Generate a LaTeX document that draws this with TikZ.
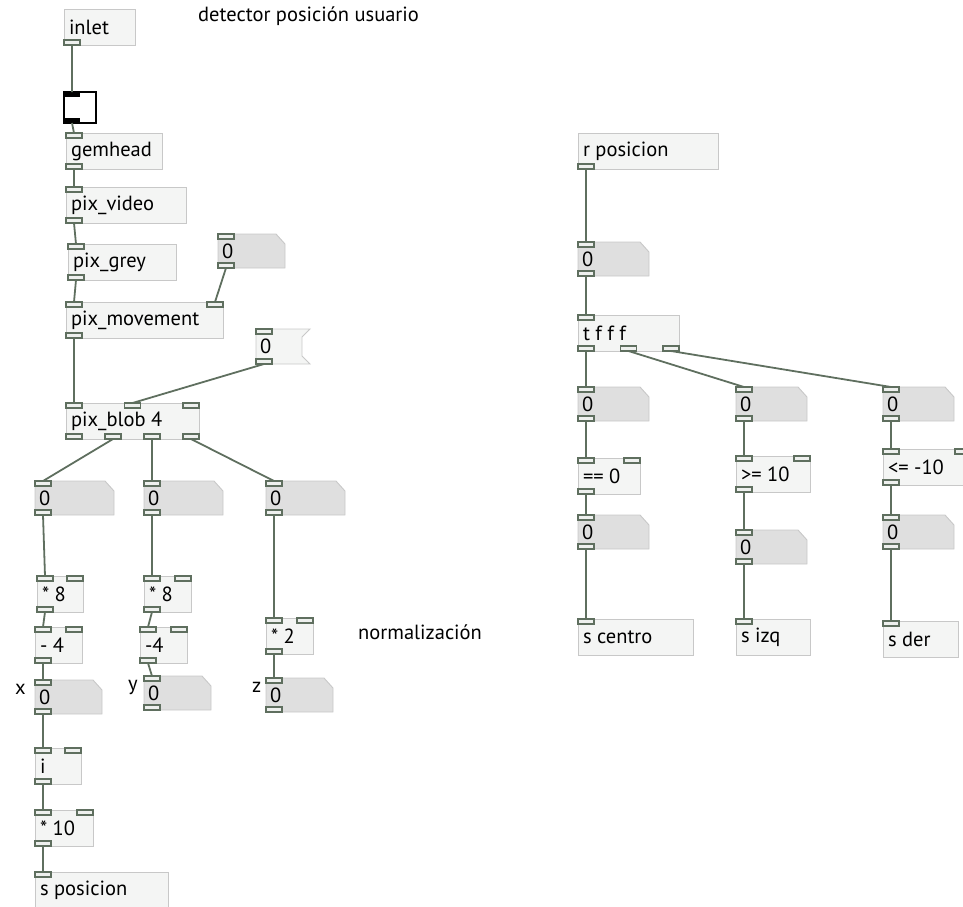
\documentclass[tikz,border=0pt]{standalone}
\usepackage{fontspec}
\setmainfont{PT Sans}
\usepackage{tikz}
\usetikzlibrary{calc}
\definecolor{cablecol}{HTML}{5F6F5F}
\definecolor{boxline}{HTML}{C8C8C8}
\definecolor{boxfill}{HTML}{F4F5F4}
\definecolor{numfill}{HTML}{DFDFDF}
\definecolor{portfill}{HTML}{EEF0EE}
\tikzset{
    pdfont/.style={font=\fontsize{20.5}{24}\selectfont},
    pdbox/.style={draw=boxline, fill=boxfill, line width=0.9pt, inner sep=0pt, outer sep=0pt,
        minimum height=36, anchor=north west, pdfont},
    pdtext/.style={inner sep=0pt, outer sep=0pt, minimum height=34, anchor=north west, pdfont},
    port/.style={draw=cablecol, fill=portfill, line width=1.4pt},
    tglport/.style={fill=black},
    cable/.style={draw=cablecol, line width=1.8pt},
    numshape/.style={draw=boxline, fill=numfill, line width=0.9pt},
    msgshape/.style={draw=boxline, fill=boxfill, line width=0.9pt},
    lbl/.style={inner sep=0pt, anchor=west, pdfont}
}
\newcommand{\pdports}[5][port]{
    \ifnum#4>0
    \foreach \k in {1,...,#4}{
        \pgfmathsetmacro{\dx}{(\k-1)*(#3-16)/max(#4-1,1)}
        \path[#1] ($(#2.north west)+(\dx,0)$) rectangle ++(16,5);
        \coordinate (#2-i\k) at ($(#2.north west)+(\dx+8,0)$);
    }
    \fi
    \ifnum#5>0
    \foreach \k in {1,...,#5}{
        \pgfmathsetmacro{\dx}{(\k-1)*(#3-16)/max(#5-1,1)}
        \path[#1] ($(#2.south west)+(\dx,-5)$) rectangle ++(16,5);
        \coordinate (#2-o\k) at ($(#2.south west)+(\dx+8,0)$);
    }
    \fi
}
\newcommand{\pdobj}[7]{
    \node[pdbox, minimum width=#4] (#1) at (#2, #3) {\makebox[#4pt][l]{\hspace{5pt}#5}};
    \pdports{#1}{#4}{#6}{#7}
}
\newcommand{\pdnum}[4]{
    \path[numshape] (#2, #3) -- ++(#4-9, 0) -- ++(9, 10) -- ++(0, 24) -- ++(-#4, 0) -- cycle;
    \node[pdtext, minimum width=#4] (#1) at (#2, #3) {\makebox[#4pt][l]{\hspace{4pt}0}};
    \pdports{#1}{#4}{1}{1}
}
\newcommand{\pdmsg}[4]{
    \path[msgshape] (#2, #3) -- ++(#4, 0) -- ++(-8, 8) -- ++(0, 19) -- ++(8, 8) -- ++(-#4, 0) -- cycle;
    \node[pdtext, minimum width=#4, minimum height=35] (#1) at (#2, #3) {\makebox[#4pt][l]{\hspace{4pt}0}};
    \pdports{#1}{#4}{1}{1}
}

\begin{document}
\begin{tikzpicture}[x=1pt, y=-1pt]
    \useasboundingbox (0, 0) rectangle (963, 906);
    \node[lbl] (title) at (198, 16) {detector posición usuario};
    \node[lbl] (norm) at (358, 632) {normalización};
    \pdobj{inlet}{64}{9}{71}{inlet}{0}{1}
    \node[draw=black, line width=1.6pt, fill=white, inner sep=0pt, outer sep=0pt,
        minimum width=32, minimum height=31, anchor=north west] (tgl) at (64, 92) {};
    \pdports[tglport]{tgl}{32}{1}{1}
    \pdobj{gemhead}{66}{133}{96}{gemhead}{1}{1}
    \pdobj{pixvideo}{66}{187}{120}{pix\_video}{1}{1}
    \pdobj{pixgrey}{68}{244}{108}{pix\_grey}{1}{1}
    \pdnum{numthr}{218}{234}{67}
    \pdobj{pixmove}{66}{302}{157}{pix\_movement}{2}{1}
    \pdmsg{msgblob}{256}{329}{54}
    \pdobj{pixblob}{66}{403}{133}{pix\_blob 4}{3}{4}
    \pdnum{numbx}{35}{481}{79}
    \pdnum{numby}{144}{481}{79}
    \pdnum{numbz}{266}{481}{79}
    \pdobj{mulx}{37}{576}{46}{* 8}{2}{1}
    \pdobj{subx}{35}{627}{47}{- 4}{2}{1}
    \pdnum{numx}{35}{680}{67}
    \pdobj{intx}{35}{748}{46}{i}{2}{1}
    \pdobj{multen}{35}{810}{58}{* 10}{2}{1}
    \pdobj{sendpos}{35}{872}{133}{s posicion}{1}{0}
    \pdobj{muly}{144}{576}{47}{* 8}{2}{1}
    \pdobj{suby}{140}{627}{47}{-4}{2}{1}
    \pdnum{numy}{144}{676}{67}
    \pdobj{mulz}{266}{618}{47}{* 2}{2}{1}
    \pdnum{numz}{266}{678}{67}
    \node[lbl] (lblx) at (15, 689) {x};
    \node[lbl] (lbly) at (128, 687) {y};
    \node[lbl] (lblz) at (252, 687) {z};
    \draw[cable]
    (inlet-o1) -- (tgl-i1) (tgl-o1) -- (gemhead-i1)
    (gemhead-o1) -- (pixvideo-i1) (pixvideo-o1) -- (pixgrey-i1)
    (pixgrey-o1) -- (pixmove-i1) (numthr-o1) -- (pixmove-i2)
    (pixmove-o1) -- (pixblob-i1) (msgblob-o1) -- (pixblob-i2)
    (pixblob-o2) -- (numbx-i1) (pixblob-o3) -- (numby-i1) (pixblob-o4) -- (numbz-i1)
    (numbx-o1) -- (mulx-i1) (mulx-o1) -- (subx-i1) (subx-o1) -- (numx-i1)
    (numx-o1) -- (intx-i1) (intx-o1) -- (multen-i1) (multen-o1) -- (sendpos-i1)
    (numby-o1) -- (muly-i1) (muly-o1) -- (suby-i1) (suby-o1) -- (numy-i1)
    (numbz-o1) -- (mulz-i1) (mulz-o1) -- (numz-i1);
    \begin{scope}[shift={(578, 0)}]
        \pdobj{recvpos}{0}{133}{140}{r posicion}{0}{1}
        \pdnum{numr}{0}{242}{71}
        \pdobj{trig}{0}{315}{101}{t f f f}{1}{3}
        \pdnum{numc}{0}{387}{71}
        \pdnum{numi}{158}{387}{71}
        \pdnum{numd}{305}{387}{71}
        \pdobj{eqzero}{0}{458}{62}{== 0}{2}{1}
        \pdobj{geten}{158}{456}{74}{>= 10}{2}{1}
        \pdobj{leten}{305}{449}{88}{<= -10}{2}{1}
        \pdnum{numcc}{0}{515}{71}
        \pdnum{numii}{158}{530}{71}
        \pdnum{numdd}{305}{515}{71}
        \pdobj{sendc}{0}{619}{115}{s centro}{1}{0}
        \pdobj{sendi}{158}{619}{74}{s izq}{1}{0}
        \pdobj{sendd}{305}{621}{75}{s der}{1}{0}
        \draw[cable]
        (recvpos-o1) -- (numr-i1) (numr-o1) -- (trig-i1)
        (trig-o1) -- (numc-i1) (trig-o2) -- (numi-i1) (trig-o3) -- (numd-i1)
        (numc-o1) -- (eqzero-i1) (eqzero-o1) -- (numcc-i1) (numcc-o1) -- (sendc-i1)
        (numi-o1) -- (geten-i1) (geten-o1) -- (numii-i1) (numii-o1) -- (sendi-i1)
        (numd-o1) -- (leten-i1) (leten-o1) -- (numdd-i1) (numdd-o1) -- (sendd-i1);
    \end{scope}
\end{tikzpicture}
\end{document}
